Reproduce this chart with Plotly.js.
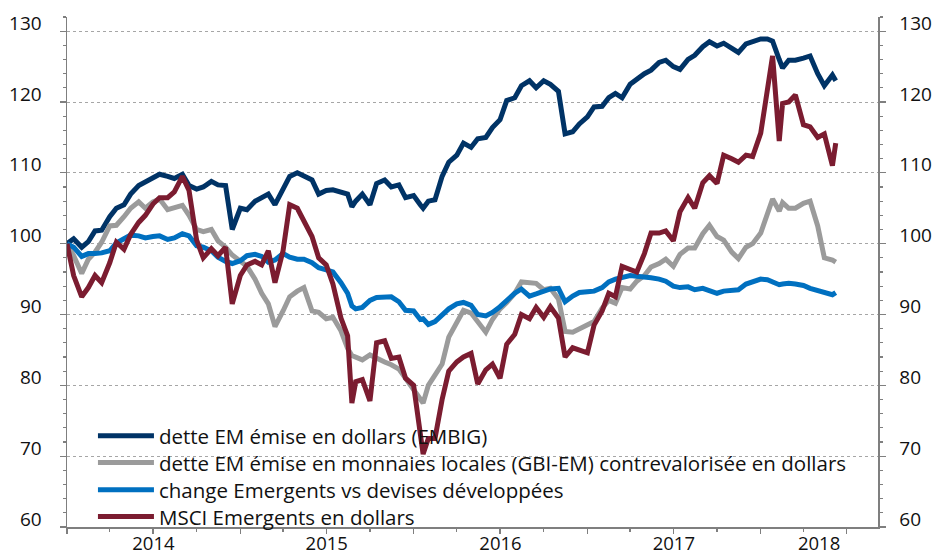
<!DOCTYPE html>
<html><head><meta charset="utf-8">
<script src="https://cdn.plot.ly/plotly-3.0.1.min.js"></script>
<style>html,body{margin:0;padding:0;background:#fff}#chart{width:933px;height:557px}</style>
</head><body><div id="chart"></div>
<script>
const dates = [
'2014-01-01','2014-01-15','2014-02-01','2014-02-15','2014-03-01','2014-03-15','2014-04-01','2014-04-15','2014-05-01','2014-05-15','2014-06-01','2014-06-15','2014-07-01','2014-07-15','2014-08-01','2014-08-15','2014-09-01','2014-09-15','2014-10-01','2014-10-15','2014-11-01','2014-11-15','2014-12-01','2014-12-15',
'2015-01-01','2015-01-15','2015-02-01','2015-02-15','2015-03-01','2015-03-15','2015-04-01','2015-04-15','2015-05-01','2015-05-15','2015-06-01','2015-06-15','2015-07-01','2015-07-15','2015-08-01','2015-08-15','2015-08-24','2015-09-01','2015-09-15','2015-10-01','2015-10-15','2015-11-01','2015-11-15','2015-12-01','2015-12-15',
'2016-01-01','2016-01-15','2016-01-21','2016-02-01','2016-02-15','2016-03-01','2016-03-15','2016-04-01','2016-04-15','2016-05-01','2016-05-15','2016-06-01','2016-06-15','2016-07-01','2016-07-15','2016-08-01','2016-08-15','2016-09-01','2016-09-15','2016-10-01','2016-10-15','2016-11-01','2016-11-15','2016-12-01','2016-12-15',
'2017-01-01','2017-01-15','2017-02-01','2017-02-15','2017-03-01','2017-03-15','2017-04-01','2017-04-15','2017-05-01','2017-05-15','2017-06-01','2017-06-15','2017-07-01','2017-07-15','2017-08-01','2017-08-15','2017-09-01','2017-09-15','2017-10-01','2017-10-15','2017-11-01','2017-11-15','2017-12-01','2017-12-15',
'2018-01-01','2018-01-15','2018-01-26','2018-02-09','2018-02-16','2018-03-01','2018-03-15','2018-04-01','2018-04-15','2018-05-01','2018-05-15','2018-06-01','2018-06-08'
];
const embig = [
100.0,100.7,99.5,100.3,101.8,101.9,103.8,105.0,105.5,107.0,108.2,108.7,109.4,109.8,109.5,109.2,109.8,108.2,107.7,108.0,108.8,108.3,108.2,102.0,
105.0,104.8,106.0,106.5,107.0,105.5,107.8,109.5,110.0,109.5,109.0,107.0,107.5,107.6,107.3,107.0,105.2,106.0,107.0,105.5,108.5,109.0,108.0,108.3,106.5,
106.8,105.5,105.0,106.0,106.2,109.5,111.5,112.5,114.2,113.6,114.8,115.0,116.4,117.5,120.2,120.6,122.3,123.0,122.0,123.0,122.5,121.5,115.5,115.8,116.9,
117.9,119.3,119.4,120.6,121.2,120.6,122.5,123.3,124.0,124.5,125.6,125.9,125.0,124.6,126.0,126.6,127.8,128.5,127.9,128.3,127.5,127.0,128.2,128.5,
128.9,128.9,128.6,126.0,124.8,125.9,125.9,126.2,126.5,124.0,122.3,123.8,123.0
];
const gbiem = [
100.0,98.3,95.8,97.8,98.8,100.2,102.5,102.6,103.8,105.0,105.9,105.0,105.9,106.3,104.8,105.0,105.4,104.0,102.0,101.7,102.0,100.4,99.5,98.4,
97.5,96.8,95.0,93.0,91.5,88.3,90.5,92.5,93.3,93.8,90.5,90.3,89.4,89.6,87.7,85.2,84.2,84.0,83.6,84.3,83.8,83.3,82.9,82.3,81.0,
79.5,78.2,77.5,80.0,81.5,83.0,86.8,89.0,90.6,90.2,89.0,87.5,89.3,90.8,91.7,93.0,94.6,94.5,94.4,93.5,93.7,92.2,87.6,87.5,88.0,
88.5,89.0,90.9,92.0,91.6,93.8,93.6,94.7,95.5,96.7,97.2,97.8,96.8,98.5,99.4,99.4,101.4,102.6,101.0,100.5,98.8,97.9,99.5,100.0,
101.5,104.5,106.3,104.6,105.8,105.0,105.0,105.7,106.0,102.5,98.0,97.7,97.4
];
const fxEm = [
100.0,99.5,98.2,98.6,98.6,98.7,99.0,100.1,100.7,101.2,101.1,100.8,101.0,101.1,100.6,100.8,101.4,101.1,99.7,99.5,99.0,98.1,97.5,97.2,
97.6,98.3,98.5,98.2,97.4,97.7,98.6,98.1,97.8,97.8,97.3,96.6,96.3,96.0,94.5,93.0,91.2,90.8,91.0,92.0,92.4,92.5,92.5,91.8,90.6,
90.5,89.3,89.4,88.6,89.0,89.9,90.8,91.5,91.7,91.3,90.0,89.8,90.3,91.1,92.0,93.0,93.6,92.6,92.9,93.3,93.6,93.7,91.8,92.6,93.1,
93.2,93.3,93.8,94.6,95.0,95.3,95.5,95.4,95.2,95.2,95.0,94.7,94.0,93.8,93.9,93.5,93.7,93.4,93.0,93.3,93.5,93.5,94.3,94.7,
95.0,94.9,94.6,94.2,94.3,94.4,94.3,94.1,93.7,93.4,93.0,92.8,93.1
];
const msci = [
100.0,95.5,92.5,93.8,95.5,94.5,97.3,100.2,99.2,101.3,103.0,104.0,105.6,106.5,106.5,107.3,109.5,107.5,100.5,98.0,99.3,98.3,99.5,91.5,
95.5,97.0,97.5,97.0,99.0,94.5,99.0,105.5,105.0,103.3,101.0,98.0,97.0,94.3,89.5,87.0,77.5,80.5,80.8,77.8,86.0,86.3,83.8,84.0,81.0,
80.0,74.0,70.3,72.5,72.5,78.0,82.0,83.3,84.0,84.5,80.2,82.2,83.0,81.0,85.8,87.2,90.0,89.4,91.0,89.6,91.1,89.5,84.0,85.3,85.0,
84.6,88.5,90.5,93.0,92.5,96.8,96.3,96.0,98.6,101.5,101.5,101.8,100.4,104.5,106.5,105.0,108.6,109.6,108.5,112.5,112.0,111.5,112.5,112.3,
115.6,121.5,126.5,114.5,119.8,120.0,121.0,116.8,116.5,115.0,115.5,111.0,114.2
];
const seriesNames = [
'dette EM émise en dollars (EMBIG)',
'dette EM émise en monnaies locales (GBI-EM) contrevalorisée en dollars',
'change Emergents vs devises développées',
'MSCI Emergents en dollars'
];
const seriesColors = ['#003366','#9b9b9b','#0070c0','#7b1c30'];
const years = ['2014','2015','2016','2017','2018'];
const yearLabelDates = ['2014-07-02','2015-07-02','2016-07-02','2017-07-02','2018-05-04'];
const xRange = ['2014-01-01','2018-09-05'];
const yRange = [60,132];

const values = [embig, gbiem, fxEm, msci];
const legendIds = ['legend','legend2','legend3','legend4'];
const traces = values.map((v,i)=>({
  type:'scatter', mode:'lines', x:dates, y:v, name:seriesNames[i],
  xaxis: i===3 ? 'x2' : 'x', yaxis: i===3 ? 'y2' : 'y',
  legend: legendIds[i],
  line:{color:seriesColors[i], width:5}, hoverinfo:'skip'
}));

const axisGrey = '#7f7f7f';
const fontFam = '"Open Sans", sans-serif';
const yCommon = {
  range:yRange, tickmode:'linear', tick0:60, dtick:10, ticks:'outside', ticklen:6, tickwidth:1.3,
  tickcolor:axisGrey, showline:true, linecolor:axisGrey, linewidth:1.5, zeroline:false,
  minor:{dtick:2, tick0:60, ticks:'outside', ticklen:3, tickwidth:1.3, tickcolor:axisGrey, showgrid:false},
  tickfont:{family:fontFam, size:19, color:'#111'}, ticklabelshift:-8
};
const legendRowY = [0.1784, 0.1261, 0.0725, 0.0202];
const legendBase = {x:0.032, xanchor:'left', yanchor:'middle', bgcolor:'rgba(0,0,0,0)', borderwidth:0,
  font:{family:fontFam, size:20.5, color:'#111'}, itemwidth:56, tracegroupgap:0};

const layout = {
  width:933, height:557,
  margin:{l:67, r:55, t:17, b:30, pad:0, autoexpand:false},
  paper_bgcolor:'#ffffff', plot_bgcolor:'#ffffff',
  font:{family:fontFam, size:19, color:'#111'},
  showlegend:true,
  xaxis:{type:'date', range:xRange, tickmode:'linear', tick0:'2014-01-01', dtick:'M6',
    ticks:'outside', ticklen:5, tickwidth:1.3, tickcolor:axisGrey, showticklabels:false,
    showline:true, linecolor:axisGrey, linewidth:1.5, showgrid:false, zeroline:false,
    minor:{tick0:'2014-01-01', dtick:'M3', ticks:'outside', ticklen:3, tickwidth:1.3, tickcolor:axisGrey, showgrid:false}},
  xaxis2:{type:'date', overlaying:'x', side:'bottom', anchor:'y', range:xRange, tickmode:'array',
    tickvals:yearLabelDates, ticktext:years, ticks:'', showline:false, showgrid:false, zeroline:false,
    tickfont:{family:fontFam, size:18.5, color:'#111'}, ticklabelstandoff:3},
  yaxis:Object.assign({}, yCommon, {side:'left', showgrid:true, gridcolor:'#a6a6a6', griddash:'dot', gridwidth:1, ticklabelstandoff:14}),
  yaxis2:Object.assign({}, yCommon, {overlaying:'y', side:'right', anchor:'x', showgrid:false, ticklabelstandoff:10})
};
legendIds.forEach((id,i)=>{ layout[id] = Object.assign({}, legendBase, {y:legendRowY[i]}); });

Plotly.newPlot('chart', traces, layout, {staticPlot:true, displayModeBar:false});
</script>
</body></html>
